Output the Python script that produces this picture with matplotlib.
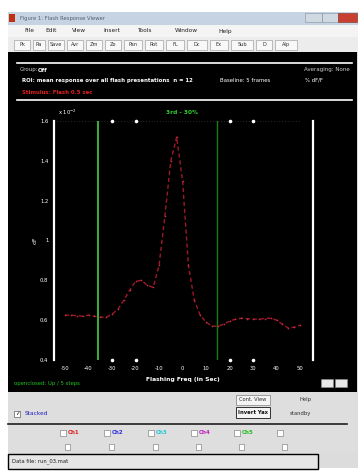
import matplotlib
matplotlib.use("Agg")
import matplotlib.pyplot as plt
from matplotlib.patches import Rectangle

#Data ---------------------------------------------------------------
freq = [-50, -47.5, -45, -42.5, -40, -37.5, -35, -32.5, -30, -27.5,
        -25, -22.5, -20, -17.5, -15, -12.5, -10, -7.5, -5, -2.5,
        0, 2.5, 5, 7.5, 10, 12.5, 15, 17.5, 20, 22.5,
        25, 27.5, 30, 32.5, 35, 37.5, 40, 42.5, 45, 47.5, 50]
resp = [0.625, 0.625, 0.623, 0.62, 0.625, 0.62, 0.615, 0.615, 0.63, 0.655,
        0.70, 0.75, 0.795, 0.80, 0.775, 0.765, 0.875, 1.125, 1.40, 1.52,
        1.30, 0.875, 0.70, 0.625, 0.59, 0.57, 0.57, 0.58, 0.595, 0.605,
        0.61, 0.608, 0.605, 0.605, 0.608, 0.61, 0.60, 0.58, 0.56, 0.565, 0.575]
xticks = [-50, -40, -30, -20, -10, 0, 10, 20, 30, 40, 50]
yticks = [0.4, 0.6, 0.8, 1, 1.2, 1.4, 1.6]
marker_x = [-30, -20, 20, 30]
win_start = -36.0
win_end = 14.7
menus = ["File", "Edit", "View", "Insert", "Tools", "Window", "Help"]
menu_x = [24, 45, 72, 103, 137, 175, 218]
tool_labels = ["Pk", "Ra", "Save", "Avr", "Zm", "Zo", "Pan", "Rot", "FL", "Dc", "Ex", "Sub", "D", "Alp"]
channels = ["Ch1", "Ch2", "Ch3", "Ch4", "Ch5", ""]
chan_colors = ["#e02020", "#3030e0", "#20c8d8", "#c020c0", "#20c020", "#ffffff"]
chan_x = [63, 107, 151, 194, 237, 280]
#--------------------------------------------------------------------

W, H = 363, 471
fig = plt.figure(figsize=(W / 100, H / 100), dpi=100)
fig.patch.set_facecolor("white")

#background axes in pixel units (y down)
bg = fig.add_axes([0, 0, 1, 1])
bg.set_xlim(0, W)
bg.set_ylim(H, 0)
bg.axis("off")

def box(x0, y0, x1, y1, fc, ec="none", lw=0.6, z=1):
    bg.add_patch(Rectangle((x0, y0), x1 - x0, y1 - y0, facecolor=fc,
                           edgecolor=ec, linewidth=lw, zorder=z))

def txt(x, y, s, c="black", fs=4.2, ha="left", w="normal"):
    bg.text(x, y, s, color=c, fontsize=fs, ha=ha, va="center",
            fontweight=w, zorder=5)

#window frame
box(8, 12, 358, 468, "#dcdcdc")
#title bar
box(8, 12, 358, 25, "#c5d3e3")
box(9, 14, 15, 22, "#c03010")
txt(20, 18.5, "Figure 1: Flash Response Viewer", "#556070", 3.8)
box(305, 13, 322, 22, "#d0d8e2", "#8090a0", 0.4)
box(322, 13, 338, 22, "#d0d8e2", "#8090a0", 0.4)
box(338, 13, 357, 22, "#c84030", "#803020", 0.4)
#menu bar
box(8, 25, 358, 37, "#f4f4f4")
for m, mx in zip(menus, menu_x):
    txt(mx, 31, m, "#202020", 4.2)
#toolbar
box(8, 37, 358, 52, "#ececec")
bx = 14
widths = [18, 14, 18, 18, 18, 18, 20, 20, 20, 22, 20, 24, 18, 24]
for lab, wd in zip(tool_labels, widths):
    box(bx, 39.5, bx + wd - 2, 50, "#f8f8f8", "#909090", 0.4, 2)
    txt(bx + (wd - 2) / 2, 44.8, lab, "#303030", 3.6, "center")
    bx += wd + 1

#black display panel
box(8, 52, 357, 392, "black", z=1)
bg.plot([17, 352], [63, 63], color="white", lw=1.2, zorder=3)
bg.plot([17, 352], [100, 100], color="white", lw=1.2, zorder=3)
txt(20, 70, "Group:", "#d0d0d0", 4.0)
txt(38, 70, "Off", "white", 4.0, w="bold")
txt(350, 70, "Averaging: None", "#d0d0d0", 4.0, "right")
txt(22, 80.5, "ROI: mean response over all flash presentations  n = 12", "white", 3.9, w="bold")
txt(220, 80.5, "Baseline: 5 frames", "white", 3.9)
txt(305, 80.5, "% dF/F", "white", 3.9)
txt(22, 92, "Stimulus: Flash 0.5 sec", "#e02020", 3.9, w="bold")
txt(182, 112, "3rd - 30%", "#30d030", 4.2, "center", "bold")
txt(58, 112, "x 10$^{-2}$", "white", 3.8)
txt(183, 380, "Flashing Freq (in Sec)", "white", 4.3, "center", "bold")
txt(14, 384, "openclosed: Up / 5 steps", "#20c020", 3.9)
box(321, 379, 333, 387, "#e8e8e8", "#909090", 0.4, 3)
box(335, 379, 347, 387, "#e8e8e8", "#909090", 0.4, 3)

#controls panel
box(8, 392, 357, 423, "#dedede")
box(14, 410.5, 20, 416.5, "white", "#606060", 0.5, 3)
txt(15, 413.5, "\u2713", "black", 4.0)
txt(25, 413.5, "Stacked", "#2020c0", 4.2)
box(236, 394.5, 270, 405, "#f4f4f4", "#808080", 0.5, 3)
txt(253, 399.8, "Cont. View", "#303030", 3.7, "center")
box(236, 407, 270, 418, "#f4f4f4", "#303030", 0.7, 3)
txt(253, 412.5, "Invert Yax", "#101010", 3.8, "center", "bold")
txt(306, 399.8, "Help", "#303030", 3.8, "center")
txt(300, 413, "standby", "#303030", 3.8, "center")
bg.plot([8, 347], [423.5, 423.5], color="#202020", lw=1.2, zorder=3)

#channel selectors
box(8, 424, 357, 453, "#dedede")
for name, col, cx in zip(channels, chan_colors, chan_x):
    box(cx - 3, 429.5, cx + 3, 435.5, "white", "#707070", 0.4, 3)
    txt(cx + 5, 432.5, name, col, 4.0, w="bold")
    box(cx + 2, 444, cx + 7, 450, "white", "#707070", 0.4, 3)

#status bar
box(8, 454, 318, 469, "#e6e6e6", "black", 1.0, 2)
txt(12, 461.5, "Data file: run_03.mat", "#202020", 3.8)

#Graph ---------------------------------------------------------------
px0, px1, py0, py1 = 54, 313, 121, 360
ax = fig.add_axes([px0 / W, 1 - py1 / H, (px1 - px0) / W, (py1 - py0) / H])
ax.set_facecolor("black")
ax.set_xlim(-54.7, 55.5)
ax.set_ylim(0.4, 1.6)

ax.plot(freq, resp, color="#a01828", lw=1.0, ls=(0, (3, 2)),
        marker="o", ms=1.2, mfc="#c03040", mec="none", zorder=4)
ax.axvline(win_start, color="#40d040", lw=1.2, zorder=3)
ax.axvline(win_end, color="#108010", lw=1.0, zorder=3)
#dotted guide along the top edge
ax.plot([-54.7, 50], [1.6, 1.6], color="#505050", lw=0.5, ls=(0, (1, 3)),
        clip_on=False)
ax.scatter(marker_x, [1.6] * 4, s=2.5, color="white", clip_on=False, zorder=5)
ax.scatter(marker_x, [0.4] * 4, s=2.5, color="white", clip_on=False, zorder=5)

for side in ["top", "bottom"]:
    ax.spines[side].set_visible(False)
for side in ["left", "right"]:
    ax.spines[side].set_color("white")
    ax.spines[side].set_linewidth(1.6)

ax.set_xticks(xticks)
ax.set_xticklabels([str(v) for v in xticks])
ax.set_yticks(yticks)
ax.set_yticklabels([str(v) for v in yticks])
ax.tick_params(colors="white", labelsize=3.8, length=0, pad=4)
ax.set_ylabel("dF", color="white", fontsize=4.5, labelpad=2)

fig.savefig("out.png", dpi=100, facecolor=fig.get_facecolor())
